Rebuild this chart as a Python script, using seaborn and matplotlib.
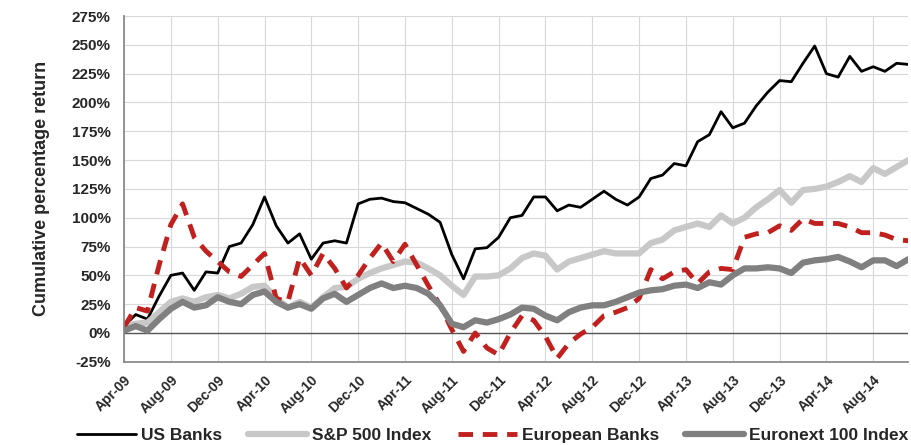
import numpy as np
import pandas as pd
import matplotlib
matplotlib.use("Agg")
import matplotlib.pyplot as plt
import seaborn as sns
from matplotlib.ticker import FuncFormatter

months = pd.date_range("2009-04-01", periods=68, freq="MS")
us_banks = [6,16,12,32,50,52,37,53,52,75,78,94,118,93,78,86,64,78,80,78,112,116,117,114,113,108,103,96,68,47,
            73,74,83,100,102,118,118,106,111,109,116,123,116,111,118,134,137,147,145,166,172,192,178,182,197,209,219,218,
            234,249,225,222,240,227,231,227,234,233]
sp500 = [6,8,9,18,27,30,27,31,33,30,34,40,41,30,22,27,22,31,39,40,47,52,56,59,62,61,56,50,41,33,
         49,49,50,56,65,69,67,55,62,65,68,71,69,69,69,78,81,89,92,95,92,102,95,100,109,116,124,113,
         124,125,127,131,136,131,143,138,144,150]
eu_banks = [5,22,19,59,94,112,83,71,62,53,49,59,69,30,27,65,50,69,56,39,50,65,78,62,77,59,41,24,3,-16,
            0,-13,-19,0,15,11,-3,-22,-9,-1,5,15,18,22,30,55,47,53,55,43,53,56,55,83,86,87,93,89,
            99,95,95,95,92,87,87,85,81,80]
euronext = [2,6,2,12,21,27,22,24,31,27,25,33,36,27,22,25,21,30,34,27,33,39,43,39,41,39,34,24,8,5,
            11,9,12,16,22,21,15,11,18,22,24,24,27,31,35,37,38,41,42,39,44,42,50,56,56,57,56,52,
            61,63,64,66,62,57,63,63,58,64]
tick_labels = ["Apr-09","Aug-09","Dec-09","Apr-10","Aug-10","Dec-10","Apr-11","Aug-11","Dec-11",
               "Apr-12","Aug-12","Dec-12","Apr-13","Aug-13","Dec-13","Apr-14","Aug-14"]

sns.set_theme(style="whitegrid")
plt.rcParams['font.family'] = ['Liberation Sans', 'DejaVu Sans']

df = pd.DataFrame({"i": np.arange(len(months)), "US Banks": us_banks, "S&P 500 Index": sp500,
                   "European Banks": eu_banks, "Euronext 100 Index": euronext})

fig, ax = plt.subplots(figsize=(9.12, 4.45), dpi=100)
fig.subplots_adjust(left=0.136, right=0.996, top=0.964, bottom=0.187)

sns.lineplot(data=df, x="i", y="US Banks", ax=ax, color="black", lw=2, label="US Banks")
sns.lineplot(data=df, x="i", y="S&P 500 Index", ax=ax, color="#c8c8c8", lw=4.5, label="S&P 500 Index")
sns.lineplot(data=df, x="i", y="European Banks", ax=ax, color="#c0201e", lw=3.5, label="European Banks")
ax.lines[-1].set_linestyle((0, (3, 2)))
sns.lineplot(data=df, x="i", y="Euronext 100 Index", ax=ax, color="#808080", lw=4.5, label="Euronext 100 Index")

ax.set_xlim(0, 67)
ax.set_ylim(-25, 275)
ax.set_yticks(np.arange(-25, 276, 25))
ax.yaxis.set_major_formatter(FuncFormatter(lambda v, p: f"{v:.0f}%"))
ax.set_xticks(np.arange(0, 67, 4))
ax.set_xticklabels(tick_labels, rotation=45, ha="right", rotation_mode="anchor", fontweight="bold", fontsize=10)
for t in ax.get_yticklabels():
    t.set_fontweight("bold"); t.set_fontsize(11)
ax.axhline(0, color="#555555", lw=1, zorder=1)
ax.grid(True, color="#d8d8d8", lw=0.8)
for s in ["top", "right"]:
    ax.spines[s].set_visible(False)
for s in ["left", "bottom"]:
    ax.spines[s].set_color("#888888")
ax.tick_params(axis="x", pad=2)
ax.set_xlabel("")
ax.set_ylabel("Cumulative percentage return", fontsize=13, fontweight="bold", labelpad=16)
ax.legend(loc="upper center", bbox_to_anchor=(0.47, -0.16), ncol=4, frameon=False,
          prop={"weight": "bold", "size": 12.5}, handlelength=3.4, columnspacing=1.5, handletextpad=0.3,
          borderpad=0.1)
fig.savefig("out.png", dpi=100)
